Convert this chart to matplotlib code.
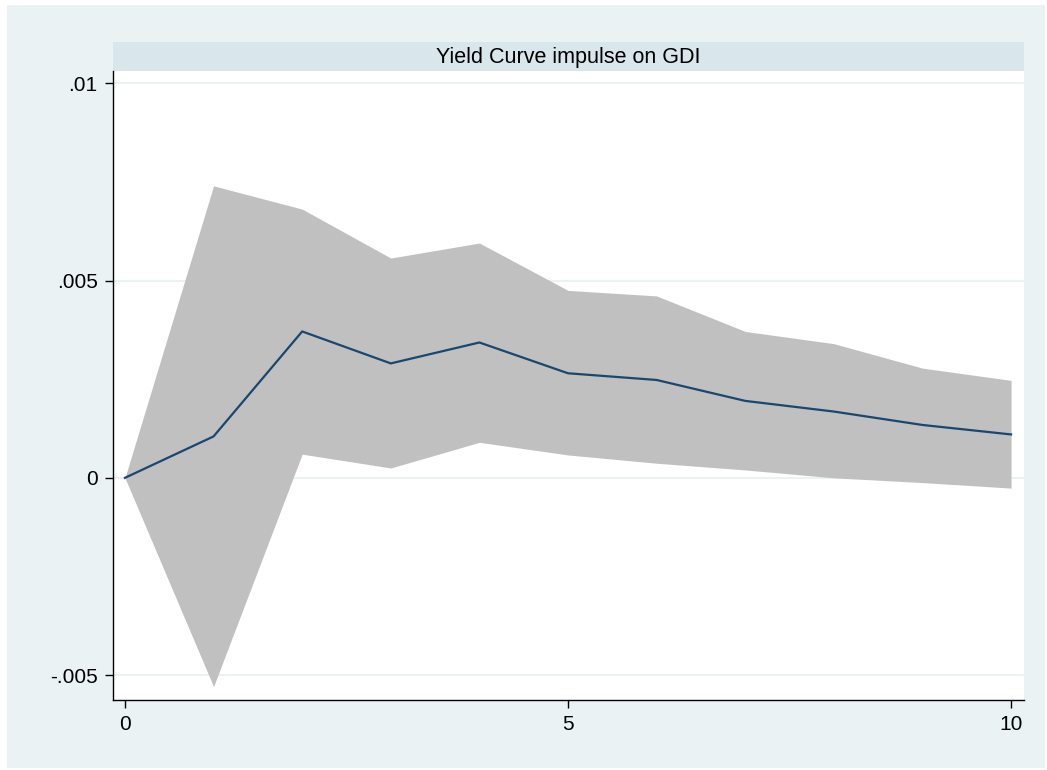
import numpy as np
import matplotlib
matplotlib.use('Agg')
import matplotlib.pyplot as plt
from matplotlib.patches import Rectangle

# impulse response of GDI to a yield curve shock, with confidence band
steps = [0, 1, 2, 3, 4, 5, 6, 7, 8, 9, 10]
irf = [0.0, 0.00105, 0.00371, 0.00290, 0.00343, 0.00265, 0.00248, 0.00195, 0.00168, 0.00134, 0.00110]
upper = [0.0, 0.00740, 0.00681, 0.00557, 0.00595, 0.00475, 0.00461, 0.00371, 0.00340, 0.00278, 0.00247]
lower = [0.0, -0.00529, 0.00060, 0.00025, 0.00090, 0.00058, 0.00037, 0.00020, 0.00000, -0.00012, -0.00026]

yticks = [-0.005, 0, 0.005, 0.01]
ytick_labels = ['-.005', '0', '.005', '.01']
xticks = [0, 5, 10]
panel_title = 'Yield Curve impulse on GDI'

plt.rcParams['font.family'] = ['Liberation Sans', 'DejaVu Sans']

W, H = 1047, 770
fig = plt.figure(figsize=(W / 100, H / 100), dpi=100)
fig.patch.set_facecolor('white')

# light blue graph region
fig.patches.append(Rectangle((7 / W, 1 - 768 / H), (1045 - 7) / W, (768 - 5) / H,
                             transform=fig.transFigure, facecolor='#EAF2F3',
                             edgecolor='none', zorder=0))

# subtitle strip above the plot
fig.patches.append(Rectangle((113 / W, 1 - 71 / H), (1024 - 113) / W, (71 - 42) / H,
                             transform=fig.transFigure, facecolor='#D9E6EB',
                             edgecolor='none', zorder=1))
fig.text((113 + 1024) / 2 / W, 1 - 57 / H, panel_title, ha='center', va='center',
         fontsize=15.5, color='black')

ax = fig.add_axes([113 / W, 1 - 700 / H, (1024 - 113) / W, (700 - 71) / H])
ax.set_zorder(3)
ax.set_facecolor('white')

ax.fill_between(steps, lower, upper, color='#C0C0C0', linewidth=0, zorder=2)
ax.plot(steps, irf, color='#1A476F', linewidth=1.6, zorder=3)

for y in yticks:
    ax.axhline(y, color='#EAF2F3', linewidth=1.5, zorder=1)

ax.set_xlim(-0.135, 10.146)
ax.set_ylim(-0.00563, 0.01031)
ax.set_xticks(xticks)
ax.set_xticklabels([str(x) for x in xticks])
ax.set_yticks(yticks)
ax.set_yticklabels(ytick_labels)

for s in ['top', 'right']:
    ax.spines[s].set_visible(False)
for s in ['left', 'bottom']:
    ax.spines[s].set_color('black')
    ax.spines[s].set_linewidth(1.0)

ax.tick_params(axis='both', direction='out', length=6, width=1.0, color='black',
               labelsize=15, pad=5)

fig.savefig('out.png', dpi=100)
